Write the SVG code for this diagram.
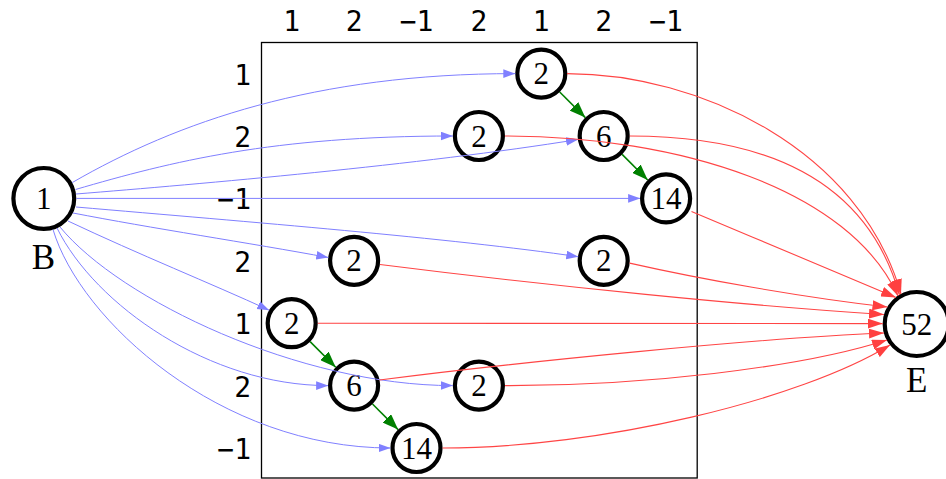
<svg xmlns="http://www.w3.org/2000/svg" width="946" height="479" viewBox="0 0 946 479">
<style>
.lbl{font-family:"DejaVu Sans Mono",monospace;font-size:28px;fill:#000}
.nd circle{fill:#fff;stroke:#000;stroke-width:4.2}
.nd text{font-family:"Liberation Serif","Times New Roman",serif;font-size:31px;text-anchor:middle;fill:#000}
.nm{font-family:"Liberation Serif","Times New Roman",serif;font-size:35px;text-anchor:middle;fill:#000}
.b{fill:none;stroke:#8080ff;stroke-width:1;marker-end:url(#ab)}
.r{fill:none;stroke:#ff4545;stroke-width:1.1;marker-end:url(#ar)}
.g{fill:none;stroke:#008000;stroke-width:1.6;marker-end:url(#ag)}
</style>
<defs>
<marker id="ab" markerUnits="userSpaceOnUse" markerWidth="12" markerHeight="9" refX="12" refY="4.3" orient="auto"><path d="M0,0 L12,4.3 L0,8.6 z" fill="#8080ff"/></marker>
<marker id="ar" markerUnits="userSpaceOnUse" markerWidth="15" markerHeight="10" refX="15" refY="5" orient="auto"><path d="M0,0 L15,5 L0,10 z" fill="#ff4040"/></marker>
<marker id="ag" markerUnits="userSpaceOnUse" markerWidth="16" markerHeight="12" refX="16" refY="6" orient="auto"><path d="M0,0 L16,6 L0,12 z" fill="#008000"/></marker>
</defs>
<rect x="261.5" y="42.5" width="435.7" height="435.5" fill="none" stroke="#000" stroke-width="1.3"/>
<g id="col-labels" class="lbl" text-anchor="middle">
<text x="291.7" y="30.7">1</text>
<text x="354.1" y="30.7">2</text>
<text x="416.5" y="30.7">−1</text>
<text x="478.9" y="30.7">2</text>
<text x="541.3" y="30.7">1</text>
<text x="603.7" y="30.7">2</text>
<text x="666.1" y="30.7">−1</text>
</g>
<g id="row-labels" class="lbl" text-anchor="end">
<text x="251" y="84.6">1</text>
<text x="251" y="147">2</text>
<text x="251" y="209.4">−1</text>
<text x="251" y="271.8">2</text>
<text x="251" y="334.2">1</text>
<text x="251" y="396.6">2</text>
<text x="251" y="459">−1</text>
</g>
<g id="B" class="nd"><circle cx="43.8" cy="198.4" r="30.4"/><text x="43.8" y="209">1</text></g>
<text class="nm" x="43.5" y="269.3">B</text>
<g id="E" class="nd"><circle cx="916.7" cy="324" r="32"/><text x="916.7" y="334.6">52</text></g>
<text class="nm" x="916.7" y="391.7">E</text>
<g id="n1" class="nd"><circle cx="541.3" cy="73.6" r="24"/><text x="541.3" y="84.2">2</text></g>
<g id="n2" class="nd"><circle cx="603.7" cy="136" r="24"/><text x="603.7" y="146.6">6</text></g>
<g id="n3" class="nd"><circle cx="666.1" cy="198.4" r="24"/><text x="666.1" y="209">14</text></g>
<g id="n4" class="nd"><circle cx="478.9" cy="136" r="24"/><text x="478.9" y="146.6">2</text></g>
<g id="n5" class="nd"><circle cx="354.1" cy="260.8" r="24"/><text x="354.1" y="271.4">2</text></g>
<g id="n6" class="nd"><circle cx="603.7" cy="260.8" r="24"/><text x="603.7" y="271.4">2</text></g>
<g id="n7" class="nd"><circle cx="291.7" cy="323.2" r="24"/><text x="291.7" y="333.8">2</text></g>
<g id="n8" class="nd"><circle cx="354.1" cy="385.6" r="24"/><text x="354.1" y="396.2">6</text></g>
<g id="n9" class="nd"><circle cx="416.5" cy="448" r="24"/><text x="416.5" y="458.6">14</text></g>
<g id="n10" class="nd"><circle cx="478.9" cy="385.6" r="24"/><text x="478.9" y="396.2">2</text></g>
<g id="connectors">
<path class="b" d="M72.2,182.6 C177,122 315,73.6 515.3,73.6"/>
<path class="b" d="M75.5,189.5 C171.5,161.5 272.9,136 452.9,136"/>
<path class="b" d="M76,194 C200,184 420,165 578,139.5"/>
<path class="b" d="M76.3,198.4 L640.1,198.4"/>
<path class="b" d="M76,207 C250,222 450,238 578.3,256.7"/>
<path class="b" d="M73,213 C150,228 250,243 328.3,257.5"/>
<path class="b" d="M68,221 C140,255 210,283 269.2,310.2"/>
<path class="b" d="M60,227 C120,300 300,385.6 452.9,385.6"/>
<path class="b" d="M57,228 C95,305 210,385.6 328.1,385.6"/>
<path class="b" d="M53,229.5 C80,320 220,448 390.5,448"/>
<path class="g" d="M559.7,92 L585.3,117.6"/>
<path class="g" d="M622.1,154.4 L647.7,180"/>
<path class="g" d="M310.1,341.6 L335.7,367.2"/>
<path class="g" d="M372.5,404 L398.1,429.6"/>
<path class="r" d="M567,73.6 C700,73.6 860,150 901,294"/>
<path class="r" d="M629.7,136 C780,136 870,190 899.5,295"/>
<path class="r" d="M504.9,136 C680,136 850,190 898,296"/>
<path class="r" d="M691.5,211.5 C760,240 830,270 896,297.5"/>
<path class="r" d="M629.6,263.1 C700,279 800,297 887.5,307"/>
<path class="r" d="M380,264.5 C550,286 750,306 884,314.5"/>
<path class="r" d="M317.7,323.3 L882.7,323.6"/>
<path class="r" d="M379.5,380 C520,362 760,338 884,333"/>
<path class="r" d="M504.9,385.6 C640,386 800,368 887,340"/>
<path class="r" d="M442.5,448 C600,448 800,400 890,345"/>
</g>
</svg>
